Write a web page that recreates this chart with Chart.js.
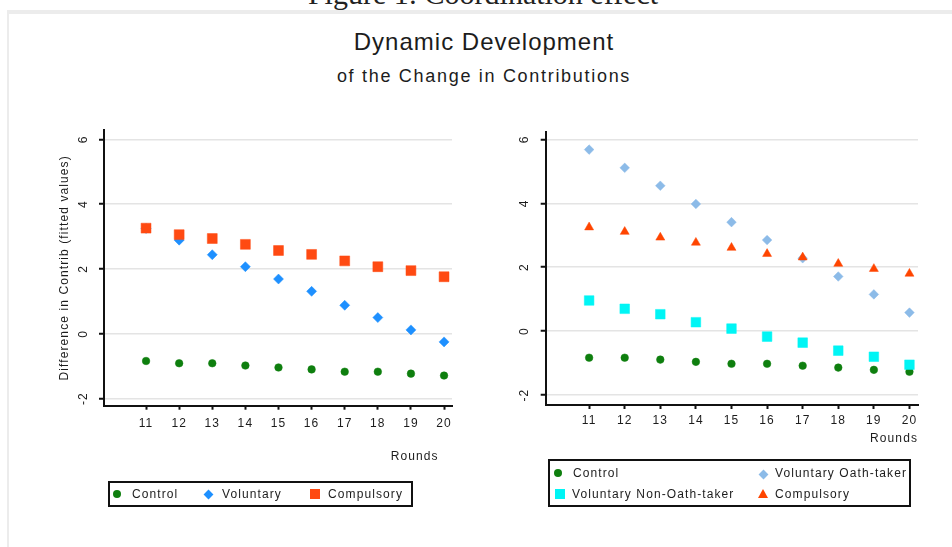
<!DOCTYPE html>
<html>
<head>
<meta charset="utf-8">
<script src="https://cdn.jsdelivr.net/npm/chart.js@4/dist/chart.umd.min.js"></script>
<style>
html,body{margin:0;padding:0;background:#fff;}
body{width:952px;height:547px;position:relative;overflow:hidden;font-family:"Liberation Sans",Arial,sans-serif;color:#1c1c1c;}
#caption{position:absolute;left:0;width:966px;top:-21px;text-align:center;font-family:"Liberation Serif","DejaVu Serif",serif;font-size:30px;line-height:30px;color:#222;white-space:nowrap;}
#frame{position:absolute;left:7px;top:10px;right:0;bottom:0;border-top:4px solid #ececec;border-left:2px solid #ececec;background:#fff;}
#t1{position:absolute;left:0;width:968px;top:30px;text-align:center;font-size:24px;line-height:24px;letter-spacing:1px;white-space:nowrap;}
#t2{position:absolute;left:0;width:968px;top:67px;text-align:center;font-size:18px;line-height:18px;letter-spacing:1.7px;white-space:nowrap;}
canvas{position:absolute;left:0;top:0;}
.box{position:absolute;box-sizing:border-box;border:2px solid #111;}
.lt{position:absolute;font-size:12px;line-height:14px;letter-spacing:1.1px;white-space:nowrap;color:#1c1c1c;}
.mk{position:absolute;}
</style>
</head>
<body>
<div id="caption">Figure 1: Coordination effect</div>
<div id="frame"></div>
<div id="t1">Dynamic Development</div>
<div id="t2">of the Change in Contributions</div>
<canvas id="c1" width="952" height="547"></canvas>
<canvas id="c2" width="952" height="547"></canvas>

<div class="box" style="left:108px;top:481px;width:305px;height:26px;"></div>
<div class="mk" style="left:113px;top:490px;width:8px;height:8px;border-radius:50%;background:#0e7f0e;"></div>
<div class="lt" style="left:132px;top:487px;">Control</div>
<div class="mk" style="left:204.5px;top:490.5px;width:7px;height:7px;transform:rotate(45deg);background:#1e90ff;"></div>
<div class="lt" style="left:222px;top:487px;">Voluntary</div>
<div class="mk" style="left:310px;top:489px;width:10px;height:10px;background:#ff4a12;"></div>
<div class="lt" style="left:328px;top:487px;">Compulsory</div>

<div class="box" style="left:548px;top:459px;width:363px;height:48px;"></div>
<div class="mk" style="left:554px;top:469px;width:8px;height:8px;border-radius:50%;background:#0e7f0e;"></div>
<div class="lt" style="left:573px;top:466px;">Control</div>
<div class="mk" style="left:759.5px;top:470.5px;width:7px;height:7px;transform:rotate(45deg);background:#8cbbe8;"></div>
<div class="lt" style="left:775px;top:466px;">Voluntary Oath-taker</div>
<div class="mk" style="left:555px;top:489px;width:10px;height:10px;background:#00f5f5;"></div>
<div class="lt" style="left:572px;top:487px;">Voluntary Non-Oath-taker</div>
<div class="mk" style="left:758px;top:488.5px;width:0;height:0;border-left:5px solid transparent;border-right:5px solid transparent;border-bottom:9px solid #ff4500;"></div>
<div class="lt" style="left:775px;top:487px;">Compulsory</div>

<script>
// ---- data ----
const rounds = [11, 12, 13, 14, 15, 16, 17, 18, 19, 20];
const yTicks = [-2, 0, 2, 4, 6];

// left panel
const leftControl    = [-0.84, -0.91, -0.91, -0.98, -1.04, -1.10, -1.17, -1.17, -1.23, -1.29];
const leftVoluntary  = [3.25, 2.89, 2.44, 2.07, 1.69, 1.31, 0.88, 0.50, 0.12, -0.25];
const leftCompulsory = [3.26, 3.06, 2.94, 2.76, 2.57, 2.45, 2.25, 2.07, 1.95, 1.76];

// right panel
const rightControl    = [-0.83, -0.83, -0.89, -0.96, -1.02, -1.02, -1.08, -1.14, -1.21, -1.27];
const rightOathTaker  = [5.68, 5.11, 4.55, 3.98, 3.41, 2.85, 2.28, 1.71, 1.15, 0.58];
const rightNonOath    = [0.96, 0.70, 0.53, 0.28, 0.08, -0.17, -0.36, -0.61, -0.80, -1.05];
const rightCompulsory = [3.25, 3.11, 2.93, 2.77, 2.61, 2.42, 2.31, 2.11, 1.95, 1.80];

const toPts = arr => rounds.map((r, i) => ({x: r, y: arr[i]}));

const spacing = {
  id: 'spacing',
  beforeLayout(c) { c.ctx.letterSpacing = '1.1px'; },
  beforeDraw(c) { c.ctx.letterSpacing = '1.1px'; }
};

Chart.defaults.font.family = '"Liberation Sans", Arial, sans-serif';
Chart.defaults.font.size = 12;
Chart.defaults.color = '#1c1c1c';

function ds(label, arr, style, color, radius, order) {
  return {label, data: toPts(arr), pointStyle: style, pointRadius: radius,
    backgroundColor: color, borderColor: color, borderWidth: 0.5, showLine: false, order};
}

function makeChart(id, datasets, o) {
  return new Chart(document.getElementById(id), {
    type: 'scatter',
    data: {datasets},
    plugins: [spacing],
    options: {
      responsive: false, animation: false, devicePixelRatio: 1,
      layout: {padding: o.pad},
      plugins: {legend: {display: false}, tooltip: {enabled: false}},
      scales: {
        x: {
          type: 'linear', min: o.xmin, max: o.xmax,
          afterBuildTicks: s => { s.ticks = rounds.map(v => ({value: v})); },
          afterFit: s => { s.height = o.xh; },
          grid: {drawOnChartArea: false, drawTicks: true, tickLength: 4, tickWidth: 2, tickColor: '#111'},
          border: {display: true, color: '#111', width: 2},
          ticks: {padding: o.xlp, maxRotation: 0, autoSkip: false, callback: v => String(v)},
          title: {display: true, text: o.xTitle, align: 'end', padding: {top: 0, bottom: o.xtp}}
        },
        y: {
          min: o.ymin, max: o.ymax,
          afterBuildTicks: s => { s.ticks = yTicks.map(v => ({value: v})); },
          afterFit: s => { s.width = 50; },
          grid: {color: '#e4e4e4', lineWidth: 1.5, drawTicks: true, tickLength: 5, tickWidth: 2, tickColor: '#111'},
          border: {display: true, color: '#111', width: 2},
          ticks: {padding: o.ylp, minRotation: 90, maxRotation: 90, crossAlign: 'center', callback: v => String(v)},
          title: {display: !!o.yTitle, text: o.yTitle || '', padding: {top: 3, bottom: 0}}
        }
      }
    }
  });
}

makeChart('c1', [
  ds('Compulsory', leftCompulsory, 'rect', '#ff4a12', 7, 0),
  ds('Voluntary', leftVoluntary, 'rectRot', '#1e90ff', 5, 1),
  ds('Control', leftControl, 'circle', '#0e7f0e', 3.8, 2)
], {pad: {left: 54, right: 500, top: 130, bottom: 81.3}, xmin: 9.73, xmax: 20.24, ymin: -2.22, ymax: 6.29,
    xh: 60, xlp: 7, xtp: 1.5, ylp: 9, xTitle: 'Rounds   ', yTitle: 'Difference in Contrib (fitted values)'});

makeChart('c2', [
  ds('Compulsory', rightCompulsory, 'triangle', '#ff4500', 5.2, 0),
  ds('Voluntary Non-Oath-taker', rightNonOath, 'rect', '#00f5f5', 6.8, 1),
  ds('Voluntary Oath-taker', rightOathTaker, 'rectRot', '#8cbbe8', 4.8, 2),
  ds('Control', rightControl, 'circle', '#0e7f0e', 3.8, 3)
], {pad: {left: 495.7, right: 34, top: 131.7, bottom: 101}, xmin: 9.78, xmax: 20.24, ymin: -2.31, ymax: 6.24,
    xh: 41, xlp: 4.5, xtp: 0, ylp: 10, xTitle: 'Rounds', yTitle: ''});
</script>
</body>
</html>
